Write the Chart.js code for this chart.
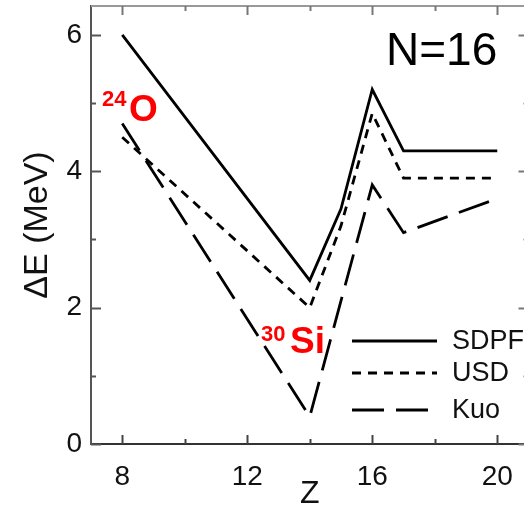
<!DOCTYPE html>
<html>
<head>
<meta charset="utf-8">
<script src="https://cdn.jsdelivr.net/npm/chart.js@4.4.0/dist/chart.umd.min.js"></script>
<style>
  html, body { margin: 0; padding: 0; background: #fff; overflow: hidden; }
  canvas { display: block; }
</style>
</head>
<body>
<canvas id="gap" width="540" height="510"></canvas>
<script>
// shell-model gap energies along N=16
var zSDPF = [8, 14, 15, 16, 17, 20]
var eSDPF = [6.0, 2.4, 3.45, 5.2, 4.3, 4.3]
var zUSD = [8, 14, 15, 16, 17, 20]
var eUSD = [4.5, 2.0, 3.2, 4.85, 3.9, 3.9]
var zKuo = [8, 14, 16, 17, 20]
var eKuo = [4.7, 0.4, 3.8, 3.1, 3.6]

var zTicks = [8, 12, 16, 20]
var zMinor = [10, 14, 18]
var eTicks = [0, 2, 4, 6]
var eMinor = [1, 3, 5]

var FONT = "'Liberation Sans', Arial, Helvetica, sans-serif"

function pts(z, e) {
    return z.map(function (v, i) { return { x: v, y: e[i] } })
}

// box around the plot with inward ticks on every side
var frame = {
    id: 'frame',
    afterDraw: function (chart) {
        var c = chart.ctx, a = chart.chartArea
        var sx = chart.scales.x, sy = chart.scales.y
        c.save()
        c.lineWidth = 2
        c.strokeStyle = '#999'
        c.beginPath()
        c.moveTo(a.left, a.top); c.lineTo(a.right, a.top)
        c.moveTo(a.right, a.top); c.lineTo(a.right, a.bottom)
        c.stroke()

        function xt(list, len) {
            list.forEach(function (v) {
                var px = Math.round(sx.getPixelForValue(v)) + 0.5
                c.strokeStyle = '#444'
                c.beginPath(); c.moveTo(px, a.bottom); c.lineTo(px, a.bottom - len); c.stroke()
                c.strokeStyle = '#777'
                c.beginPath(); c.moveTo(px, a.top); c.lineTo(px, a.top + len); c.stroke()
            })
        }
        function yt(list, len) {
            list.forEach(function (v) {
                var py = Math.round(sy.getPixelForValue(v)) + 0.5
                c.strokeStyle = '#555'
                c.beginPath(); c.moveTo(a.left, py); c.lineTo(a.left + len, py); c.stroke()
                c.strokeStyle = '#777'
                c.beginPath(); c.moveTo(a.right, py); c.lineTo(a.right - len, py); c.stroke()
            })
        }
        c.lineWidth = 2
        xt(zTicks, 9); xt(zMinor, 5)
        yt(eTicks, 10); yt(eMinor, 5)
        c.restore()
    }
}

// line samples + names, drawn from the datasets
var keyBox = {
    id: 'keyBox',
    afterDraw: function (chart) {
        var c = chart.ctx
        var rows = [341, 373, 410]
        c.save()
        chart.data.datasets.forEach(function (ds, i) {
            var y = rows[i]
            c.strokeStyle = ds.borderColor
            c.lineWidth = ds.borderWidth
            c.setLineDash(ds.borderDash || [])
            c.beginPath(); c.moveTo(352, y); c.lineTo(437, y); c.stroke()
            c.setLineDash([])
            c.fillStyle = '#111'
            c.font = '27px ' + FONT
            c.textBaseline = 'middle'
            c.fillText(ds.label, 452, y + 1)
        })
        c.restore()
    }
}

// nucleus tags and the N=16 caption
var tags = {
    id: 'tags',
    afterDraw: function (chart) {
        var c = chart.ctx
        c.save()
        c.textBaseline = 'alphabetic'
        c.fillStyle = '#000'
        c.font = '46px ' + FONT
        c.fillText('N=16', 386, 65)

        c.fillStyle = '#ff0000'
        c.font = 'bold 22px ' + FONT
        c.fillText('24', 102, 106)
        c.font = 'bold 37px ' + FONT
        c.fillText('O', 129, 121)

        c.font = 'bold 22px ' + FONT
        c.fillText('30', 261, 341)
        c.font = 'bold 37px ' + FONT
        c.fillText('Si', 290, 353)
        c.restore()
    }
}

var ctx = document.getElementById('gap')

var chart = new Chart(ctx, {
    type: 'line',
    data: {
        datasets: [
            {
                label: 'SDPF',
                data: pts(zSDPF, eSDPF),
                borderColor: '#000',
                borderWidth: 2.8,
                borderDash: [],
            },
            {
                label: 'USD',
                data: pts(zUSD, eUSD),
                borderColor: '#000',
                borderWidth: 2.8,
                borderDash: [9, 7],
            },
            {
                label: 'Kuo',
                data: pts(zKuo, eKuo),
                borderColor: '#000',
                borderWidth: 2.8,
                borderDash: [32, 12],
            },
        ]
    },
    options: {
        responsive: false,
        animation: false,
        events: [],
        layout: { padding: { left: 0, top: 6, right: 11.5, bottom: 0 } },
        elements: {
            point: { radius: 0 },
            line: { tension: 0, fill: false }
        },
        plugins: {
            legend: { display: false },
            tooltip: { enabled: false }
        },
        scales: {
            x: {
                type: 'linear',
                min: 7,
                max: 21,
                grid: { display: false, drawTicks: false },
                border: { display: true, color: '#333', width: 2 },
                afterBuildTicks: function (s) { s.ticks = zTicks.map(function (v) { return { value: v } }) },
                afterFit: function (s) { s.height = 66; s.paddingLeft = 0; s.paddingRight = 0 },
                ticks: {
                    color: '#111',
                    padding: 16,
                    maxRotation: 0,
                    font: { family: FONT, size: 28 }
                },
                title: {
                    display: true,
                    text: 'Z',
                    color: '#111',
                    padding: 0,
                    font: { family: FONT, size: 32, lineHeight: 1 }
                }
            },
            y: {
                type: 'linear',
                min: 0,
                max: 6.425,
                grid: { display: false, drawTicks: false },
                border: { display: true, color: '#555', width: 2 },
                afterBuildTicks: function (s) { s.ticks = eTicks.map(function (v) { return { value: v } }) },
                afterFit: function (s) { s.width = 91; s.paddingTop = 0; s.paddingBottom = 0 },
                ticks: {
                    color: '#111',
                    padding: 9,
                    font: { family: FONT, size: 28 }
                },
                title: {
                    display: true,
                    text: 'ΔE (MeV)',
                    color: '#111',
                    padding: { top: 21, bottom: 0 },
                    font: { family: FONT, size: 34, lineHeight: 1 }
                }
            }
        }
    },
    plugins: [frame, keyBox, tags]
})
</script>
</body>
</html>
